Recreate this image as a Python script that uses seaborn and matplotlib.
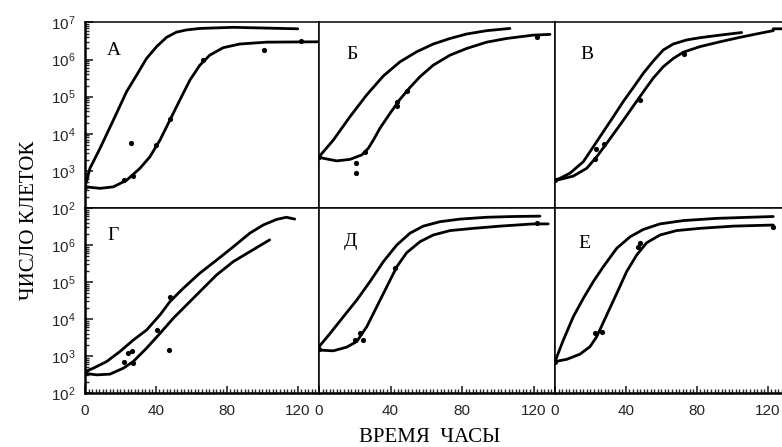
import numpy as np
import pandas as pd
import matplotlib
matplotlib.use("Agg")
import matplotlib.pyplot as plt
import seaborn as sns
from matplotlib.ticker import FixedLocator, LogLocator, MultipleLocator, NullLocator

# ---------------- data (time in hours, log10 of cell number) ----------------
panel_labels = ["А", "Б", "В", "Г", "Д", "Е"]

a_upper_t = [0, 2.8, 8.5, 16, 23.5, 29.1, 34.7, 40.4, 46, 51.6, 57.3, 64.8, 83.5, 120]
a_upper_log = [2.57, 3.07, 3.61, 4.37, 5.14, 5.58, 6.03, 6.35, 6.6, 6.74, 6.8, 6.84, 6.87, 6.83]
a_lower_t = [0, 8.5, 16, 23.5, 31, 36.6, 42.3, 47.9, 53.5, 59.2, 64.8, 70.4, 77.9, 87.3, 102.3, 132]
a_lower_log = [2.57, 2.53, 2.57, 2.75, 3.07, 3.38, 3.83, 4.37, 4.91, 5.45, 5.85, 6.12, 6.32, 6.42, 6.47, 6.48]
a_pts_t = [0, 22, 27, 26, 40, 48, 66.5, 101, 122]
a_pts_log = [2.57, 2.75, 2.86, 3.74, 3.69, 4.41, 5.98, 6.27, 6.49]

b_upper_t = [0, 8, 17.3, 26.7, 36, 45.3, 54.6, 63.9, 73.3, 82.6, 93.8, 106.8]
b_upper_log = [3.38, 3.83, 4.46, 5.05, 5.56, 5.94, 6.21, 6.42, 6.57, 6.69, 6.78, 6.84]
b_lower_t = [0, 2.4, 9.9, 17.3, 23.9, 27.6, 30.4, 34.1, 39.7, 45.3, 50.9, 56.5, 63.9, 73.3,
             82.6, 93.8, 105, 119.9, 129.2]
b_lower_log = [3.38, 3.34, 3.27, 3.31, 3.43, 3.61, 3.83, 4.15, 4.55, 4.93, 5.25, 5.54, 5.85, 6.12,
               6.3, 6.47, 6.57, 6.66, 6.68]
b_pts_t = [0, 20.7, 20.7, 25.7, 43.4, 43.4, 49.4, 122]
b_pts_log = [3.38, 3.2, 2.95, 3.52, 4.87, 4.75, 5.16, 6.62]

v_upper_t = [0, 2.8, 8.5, 16, 21.6, 27.3, 32.9, 38.5, 44.2, 49.8, 55.4, 61.1, 66.7, 74.3, 81.8,
             93.1, 105.3]
v_upper_log = [2.75, 2.8, 2.94, 3.25, 3.65, 4.06, 4.46, 4.87, 5.25, 5.63, 5.96, 6.26, 6.42, 6.53,
               6.59, 6.66, 6.73]
v_lower_t = [0, 2.8, 10.3, 17.9, 23.5, 29.1, 36.7, 44.2, 49.8, 55.4, 61.1, 66.7, 72.4, 81.8,
             93.1, 104.3, 115.6, 123.1, 123.1, 132]
v_lower_log = [2.75, 2.77, 2.86, 3.07, 3.38, 3.74, 4.24, 4.75, 5.13, 5.5, 5.81, 6.03, 6.2, 6.35,
               6.48, 6.6, 6.71, 6.78, 6.83, 6.83]
v_pts_t = [0, 23.4, 27.5, 22.5, 48, 73]
v_pts_log = [2.75, 3.6, 3.72, 3.31, 4.92, 6.16]

g_upper_t = [0, 4.7, 12.2, 19.7, 27.2, 34.7, 42.3, 47.9, 55.4, 64.8, 74.2, 83.6, 93, 100.5,
             108, 113.6, 118.3]
g_upper_log = [2.58, 2.67, 2.85, 3.12, 3.43, 3.7, 4.11, 4.47, 4.83, 5.24, 5.59, 5.95, 6.32, 6.54,
               6.69, 6.75, 6.7]
g_lower_t = [0, 6.6, 14.1, 21.6, 27.2, 34.7, 42.3, 49.8, 57.3, 64.8, 74.2, 83.6, 93, 104.2]
g_lower_log = [2.53, 2.49, 2.51, 2.67, 2.85, 3.21, 3.61, 4.02, 4.38, 4.74, 5.19, 5.55, 5.82, 6.14]
g_pts_t = [0, 24.4, 26.3, 22, 27.2, 40.4, 47.3, 47.9]
g_pts_log = [2.53, 3.07, 3.14, 2.85, 2.8, 3.7, 3.16, 4.59]

d_upper_t = [0, 6.2, 13.6, 21.1, 28.5, 36, 43.5, 50.9, 58.3, 67.7, 78.9, 93.8, 108.7, 123.6]
d_upper_log = [3.25, 3.61, 4.06, 4.51, 5.01, 5.55, 6.0, 6.32, 6.51, 6.63, 6.7, 6.75, 6.77, 6.78]
d_lower_t = [0, 8, 15.5, 21.1, 26.7, 32.3, 37.9, 43.5, 49, 56.5, 63.9, 73.3, 86.3, 101.2,
             119.9, 128.2]
d_lower_log = [3.16, 3.14, 3.24, 3.39, 3.79, 4.33, 4.87, 5.41, 5.79, 6.09, 6.27, 6.39, 6.45, 6.51,
               6.57, 6.57]
d_pts_t = [0, 20.1, 22.9, 24.8, 42.5, 121.7]
d_pts_log = [3.2, 3.43, 3.61, 3.43, 5.37, 6.6]

e_upper_t = [0, 4.7, 10.3, 16, 21.6, 27.2, 34.8, 42.3, 49.8, 59.2, 72.4, 91.2, 110, 123.1]
e_upper_log = [2.85, 3.43, 4.06, 4.56, 5.01, 5.41, 5.91, 6.22, 6.42, 6.57, 6.66, 6.72, 6.75, 6.77]
e_lower_t = [0, 6.6, 14.1, 19.7, 23.5, 29.2, 34.8, 40.4, 46.1, 51.7, 59.2, 68.6, 81.8, 100.6,
             123.1]
e_lower_log = [2.85, 2.91, 3.05, 3.25, 3.52, 4.11, 4.69, 5.28, 5.73, 6.06, 6.27, 6.39, 6.45, 6.51,
               6.54]
e_pts_t = [0, 22.6, 26.3, 47, 47.9, 123.1]
e_pts_log = [2.85, 3.61, 3.66, 5.95, 6.05, 6.49]

x_ticks = [0, 40, 80, 120]
x_tick_labels = ["0", "40", "80", "120"]
y_ticks = [1e2, 1e3, 1e4, 1e5, 1e6, 1e7]
y_tick_labels = ["10$^{2}$", "10$^{3}$", "10$^{4}$", "10$^{5}$", "10$^{6}$", "10$^{7}$"]
x_label = "ВРЕМЯ  ЧАСЫ"
y_label = "ЧИСЛО КЛЕТОК"

panels = [
    (a_upper_t, a_upper_log, a_lower_t, a_lower_log, a_pts_t, a_pts_log),
    (b_upper_t, b_upper_log, b_lower_t, b_lower_log, b_pts_t, b_pts_log),
    (v_upper_t, v_upper_log, v_lower_t, v_lower_log, v_pts_t, v_pts_log),
    (g_upper_t, g_upper_log, g_lower_t, g_lower_log, g_pts_t, g_pts_log),
    (d_upper_t, d_upper_log, d_lower_t, d_lower_log, d_pts_t, d_pts_log),
    (e_upper_t, e_upper_log, e_lower_t, e_lower_log, e_pts_t, e_pts_log),
]
label_pos = [(0.124, 0.85), (0.14, 0.83), (0.137, 0.83),
             (0.12, 0.854), (0.135, 0.82), (0.124, 0.81)]

# ---------------- figure ----------------
sns.set_style("white")
plt.rcParams["font.family"] = ["Liberation Sans", "DejaVu Sans"]
plt.rcParams["mathtext.default"] = "regular"

W, H = 782, 447
fig = plt.figure(figsize=(W / 100, H / 100), dpi=100)
fig.patch.set_facecolor("white")

col_edges = [85, 319, 555, 789]
row_edges = [22.5, 208, 393]
serif = ["Liberation Serif", "DejaVu Serif"]

for i, (ut, ul, lt, ll, pt, pl) in enumerate(panels):
    r, c = divmod(i, 3)
    x0, x1 = col_edges[c], col_edges[c + 1]
    y0, y1 = row_edges[r], row_edges[r + 1]
    ax = fig.add_axes([x0 / W, 1 - y1 / H, (x1 - x0) / W, (y1 - y0) / H])
    ax.set_yscale("log")
    ax.set_facecolor("white")

    up = pd.DataFrame({"t": ut, "n": 10 ** np.array(ul)})
    lo = pd.DataFrame({"t": lt, "n": 10 ** np.array(ll)})
    pts = pd.DataFrame({"t": pt, "n": 10 ** np.array(pl)})
    sns.lineplot(data=up, x="t", y="n", ax=ax, color="black", lw=2.0,
                 sort=False, estimator=None)
    sns.lineplot(data=lo, x="t", y="n", ax=ax, color="black", lw=2.0,
                 sort=False, estimator=None)
    sns.scatterplot(data=pts, x="t", y="n", ax=ax, color="black", s=14,
                    linewidth=0, zorder=5)

    ax.set_xlim(0, 132)
    ax.set_ylim(1e2, 1e7)
    ax.set_xlabel("")
    ax.set_ylabel("")
    for side, sp in ax.spines.items():
        sp.set_color("black")
        sp.set_linewidth(1.1)

    # y axis
    if c == 0:
        ax.yaxis.set_major_locator(FixedLocator(y_ticks))
        labels = list(y_tick_labels)
        if r == 1:
            labels[-1] = ""
        ax.set_yticklabels(labels)
        ax.yaxis.set_minor_locator(LogLocator(base=10, subs=np.arange(2, 10)))
        ax.tick_params(axis="y", which="major", direction="in", length=6,
                       width=1.2, labelsize=11, pad=7, left=True, labelleft=True)
        ax.tick_params(axis="y", which="minor", direction="in", length=3,
                       width=1.0, left=True)
        ax.spines["left"].set_linewidth(1.8)
    else:
        ax.yaxis.set_major_locator(NullLocator())
        ax.yaxis.set_minor_locator(NullLocator())

    # x axis
    if r == 1:
        ax.xaxis.set_major_locator(FixedLocator(x_ticks))
        ax.set_xticklabels(x_tick_labels)
        ax.xaxis.set_minor_locator(MultipleLocator(2))
        ax.tick_params(axis="x", which="major", direction="in", length=5,
                       width=1.2, labelsize=11, pad=8, bottom=True)
        ax.tick_params(axis="x", which="minor", direction="in", length=3,
                       width=1.0, bottom=True)
        ax.spines["bottom"].set_linewidth(1.8)
    else:
        ax.xaxis.set_major_locator(NullLocator())
        ax.xaxis.set_minor_locator(NullLocator())

    lx, ly = label_pos[i]
    ax.text(lx, ly, panel_labels[i], transform=ax.transAxes, ha="center",
            va="center", fontsize=14, family=serif, color="black")

fig.text(30 / W, 1 - 220 / H, y_label, rotation=90, ha="center", va="center",
         fontsize=15, family=serif, color="black")
fig.text(430 / W, 1 - 437 / H, x_label, ha="center", va="center",
         fontsize=15, family=serif, color="black")

fig.savefig("out.png", dpi=100, facecolor="white")
